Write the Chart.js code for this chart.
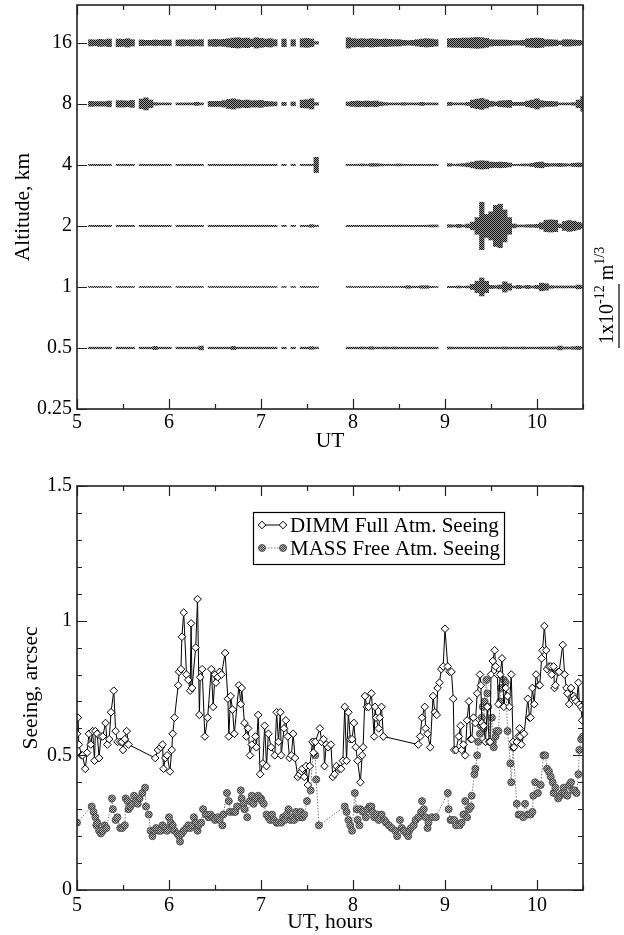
<!DOCTYPE html>
<html>
<head>
<meta charset="utf-8">
<script src="https://cdn.jsdelivr.net/npm/chart.js@4.4.0/dist/chart.umd.min.js"></script>
<style>
  html, body { margin: 0; padding: 0; background: #fff; }
  #wrap { position: relative; width: 624px; height: 935px; overflow: hidden; }
  #profile { position: absolute; left: 0; top: 0; }
  #seeing { position: absolute; left: 0; top: 470px; }
</style>
</head>
<body>
<div id="wrap">
  <canvas id="profile" width="624" height="470"></canvas>
  <canvas id="seeing" width="624" height="465"></canvas>
</div>
<script>
/* =========================================================
   DATA - turbulence profile (MASS layers)
   values are layer integrals in units of 1e-13 m^1/3
========================================================= */
const layerAltitudes = [0.5, 1, 2, 4, 8, 16];
const altitudeTicks = [0.25, 0.5, 1, 2, 4, 8, 16];
const hourTicks = [5, 5.5, 6, 6.5, 7, 7.5, 8, 8.5, 9, 9.5, 10, 10.5];

const profileTimes = [
  5.15, 5.20, 5.25, 5.30, 5.35,
  5.45, 5.50, 5.55, 5.60,
  5.70, 5.75, 5.80, 5.85, 5.90, 5.95, 6.00,
  6.10, 6.15, 6.20, 6.25, 6.30, 6.35,
  6.45, 6.50, 6.55, 6.60, 6.65, 6.70, 6.75, 6.80, 6.85, 6.90, 6.95, 7.00, 7.05, 7.10, 7.15,
  7.25, 7.35, 7.45, 7.50, 7.55, 7.60,
  7.95, 8.00, 8.05, 8.10, 8.15, 8.20, 8.25, 8.30, 8.35, 8.40,
  8.45, 8.50, 8.55, 8.60, 8.65, 8.70, 8.75, 8.80, 8.85, 8.90,
  9.05, 9.10, 9.15, 9.20, 9.25, 9.30, 9.35, 9.40, 9.45, 9.50,
  9.55, 9.60, 9.65, 9.70, 9.75, 9.80, 9.85, 9.90, 9.95, 10.00,
  10.05, 10.10, 10.15, 10.20, 10.25, 10.30, 10.35, 10.40, 10.45, 10.50
];

const turb16 = [
  1.0, 0.9, 1.1, 1.0, 1.2,
  1.2, 1.1, 1.3, 1.0,
  0.9, 0.8, 0.8, 0.9, 0.8, 0.9, 0.9,
  0.9, 1.0, 0.9, 1.0, 0.9, 1.0,
  1.0, 1.1, 1.0, 1.1, 1.3, 1.5, 1.6, 1.4, 1.5, 1.2, 1.6, 1.4, 1.2, 1.3, 1.0,
  1.2, 1.0, 1.3, 1.4, 1.2, 0.4,
  1.6, 1.3, 1.2, 1.3, 1.2, 1.3, 1.2, 1.1, 1.2, 1.1,
  1.0, 1.0, 0.8, 0.7, 0.8, 1.0, 1.2, 1.3, 1.2, 1.0,
  1.3, 1.4, 1.4, 1.5, 1.5, 1.6, 1.7, 1.6, 1.4, 1.0,
  0.9, 0.9, 0.9, 0.8, 0.7, 0.7, 0.8, 1.3, 1.4, 1.5,
  1.4, 1.0, 1.0, 0.9, 0.6, 1.0, 1.0, 0.9, 0.8, 0.6
];

const turb8 = [
  0.8, 0.7, 0.7, 0.7, 0.9,
  1.0, 1.0, 0.9, 1.1,
  1.5, 1.9, 1.2, 0.4, 0.3, 0.3, 0.3,
  0.3, 0.3, 0.3, 0.3, 0.5, 0.3,
  0.8, 0.8, 0.8, 1.0, 1.4, 1.6, 1.3, 1.1, 1.2, 1.0, 1.0, 1.1, 0.8, 0.7, 0.6,
  0.5, 0.6, 1.2, 1.3, 1.6, 0.4,
  0.6, 0.8, 0.9, 0.8, 0.9, 0.8, 0.9, 0.6, 0.4, 0.3,
  0.3, 0.3, 0.4, 0.3, 0.3, 0.3, 0.5, 0.3, 0.3, 0.3,
  0.5, 0.3, 0.3, 0.3, 0.5, 1.2, 1.5, 1.7, 1.3, 0.8,
  0.6, 0.9, 1.0, 1.1, 0.5, 0.5, 0.5, 0.9, 1.2, 1.6,
  1.0, 0.8, 0.8, 0.7, 0.3, 0.3, 0.3, 0.4, 1.2, 2.3
];

const turb4 = [
  0.2, 0.2, 0.2, 0.2, 0.2,
  0.2, 0.2, 0.2, 0.2,
  0.2, 0.2, 0.2, 0.2, 0.2, 0.2, 0.2,
  0.2, 0.2, 0.2, 0.2, 0.2, 0.2,
  0.2, 0.2, 0.2, 0.2, 0.2, 0.2, 0.2, 0.2, 0.2, 0.2, 0.2, 0.2, 0.2, 0.2, 0.2,
  0.2, 0.2, 0.2, 0.2, 0.2, 2.4,
  0.2, 0.2, 0.2, 0.3, 0.2, 0.4, 0.4, 0.3, 0.2, 0.2,
  0.2, 0.3, 0.2, 0.2, 0.2, 0.2, 0.2, 0.2, 0.2, 0.2,
  0.4, 0.2, 0.3, 0.4, 0.6, 0.9, 1.2, 1.3, 1.2, 0.9,
  0.8, 0.9, 0.8, 0.6, 0.2, 0.2, 0.3, 0.3, 0.5, 0.8,
  0.9, 0.5, 0.4, 0.4, 0.5, 0.4, 0.3, 0.5, 0.6, 0.5
];

const turb2 = [
  0.2, 0.2, 0.2, 0.2, 0.2,
  0.2, 0.2, 0.2, 0.2,
  0.2, 0.2, 0.2, 0.2, 0.2, 0.2, 0.2,
  0.2, 0.2, 0.2, 0.2, 0.2, 0.2,
  0.2, 0.2, 0.2, 0.2, 0.2, 0.2, 0.2, 0.2, 0.2, 0.2, 0.2, 0.2, 0.2, 0.2, 0.2,
  0.2, 0.2, 0.2, 0.2, 0.4, 0.2,
  0.2, 0.2, 0.2, 0.2, 0.2, 0.2, 0.2, 0.2, 0.2, 0.2,
  0.2, 0.2, 0.2, 0.2, 0.2, 0.2, 0.2, 0.2, 0.3, 0.3,
  0.4, 0.3, 0.5, 0.3, 0.6, 1.2, 2.6, 7.4, 3.6, 4.4,
  6.4, 6.8, 5.0, 2.6, 0.6, 0.3, 0.3, 0.4, 0.4, 0.5,
  1.0, 1.8, 1.9, 1.8, 0.6, 1.4, 1.7, 1.5, 1.1, 0.7
];

const turb1 = [
  0.15, 0.15, 0.15, 0.15, 0.15,
  0.15, 0.15, 0.15, 0.15,
  0.15, 0.15, 0.15, 0.15, 0.15, 0.15, 0.15,
  0.15, 0.15, 0.15, 0.15, 0.15, 0.15,
  0.15, 0.15, 0.15, 0.15, 0.15, 0.15, 0.15, 0.15, 0.15, 0.15, 0.15, 0.15, 0.15, 0.15, 0.15,
  0.15, 0.15, 0.15, 0.15, 0.15, 0.15,
  0.15, 0.15, 0.15, 0.15, 0.15, 0.15, 0.15, 0.15, 0.15, 0.15,
  0.15, 0.15, 0.2, 0.4, 0.2, 0.2, 0.4, 0.4, 0.2, 0.15,
  0.2, 0.2, 0.3, 0.2, 0.3, 0.8, 1.8, 2.8, 1.8, 0.5,
  0.4, 0.6, 1.6, 1.0, 0.3, 0.5, 0.3, 0.5, 0.3, 0.5,
  1.2, 1.0, 0.4, 0.3, 0.3, 0.3, 0.3, 0.3, 0.6, 0.4
];

const turb05 = [
  0.25, 0.25, 0.25, 0.25, 0.25,
  0.25, 0.25, 0.25, 0.25,
  0.25, 0.25, 0.25, 0.5, 0.25, 0.25, 0.25,
  0.25, 0.25, 0.25, 0.25, 0.25, 0.6,
  0.25, 0.25, 0.25, 0.25, 0.25, 0.5, 0.25, 0.25, 0.25, 0.25, 0.25, 0.25, 0.25, 0.25, 0.25,
  0.25, 0.25, 0.25, 0.25, 0.4, 0.25,
  0.25, 0.25, 0.25, 0.3, 0.25, 0.4, 0.25, 0.25, 0.3, 0.25,
  0.3, 0.25, 0.25, 0.25, 0.25, 0.25, 0.25, 0.25, 0.25, 0.25,
  0.3, 0.25, 0.25, 0.25, 0.25, 0.25, 0.25, 0.25, 0.25, 0.25,
  0.25, 0.25, 0.3, 0.25, 0.25, 0.25, 0.3, 0.25, 0.25, 0.25,
  0.3, 0.3, 0.3, 0.3, 0.6, 0.3, 0.3, 0.4, 0.5, 0.3
];

/* =========================================================
   DATA - seeing
========================================================= */
const dimmTimes = [
  5.00, 5.01, 5.02, 5.05, 5.06, 5.09, 5.11, 5.13, 5.15, 5.17, 5.19, 5.20, 5.22, 5.24, 5.26, 5.28,
  5.31, 5.33, 5.35, 5.37, 5.40, 5.42, 5.44, 5.47, 5.49, 5.50, 5.52, 5.54, 5.56,
  5.85, 5.88, 5.91, 5.93, 5.94, 5.96, 5.98, 6.01, 6.03, 6.04, 6.06, 6.10, 6.11, 6.13, 6.14, 6.16,
  6.19, 6.21, 6.23, 6.24, 6.25, 6.29, 6.31, 6.33, 6.34, 6.36, 6.39, 6.42, 6.46, 6.48, 6.50, 6.51,
  6.53, 6.55, 6.57, 6.61, 6.64, 6.65, 6.67, 6.69, 6.71, 6.76, 6.78, 6.79, 6.82, 6.84, 6.86, 6.88,
  6.90, 6.94, 6.95, 6.97, 6.99, 7.02, 7.04, 7.06, 7.08, 7.11, 7.15, 7.17, 7.19, 7.21, 7.22, 7.25,
  7.27, 7.29, 7.31, 7.33, 7.35, 7.37, 7.40, 7.42, 7.44, 7.45, 7.47, 7.49, 7.51, 7.53, 7.56, 7.57,
  7.59, 7.64, 7.66, 7.68, 7.69, 7.71, 7.73, 7.76, 7.78, 7.80, 7.82, 7.85, 7.87, 7.89, 7.91, 7.93,
  7.95, 7.97, 7.99, 8.01, 8.03, 8.05, 8.08, 8.10, 8.11, 8.13, 8.15, 8.17, 8.20, 8.23, 8.24, 8.25,
  8.28, 8.29, 8.31, 8.33,
  8.71, 8.73, 8.75, 8.78, 8.79, 8.81, 8.84, 8.87, 8.89, 8.91, 8.92, 8.94, 8.96, 8.98, 9.00, 9.03,
  9.05, 9.07, 9.09, 9.10, 9.12, 9.15, 9.17, 9.18, 9.20, 9.22, 9.24, 9.26, 9.28, 9.29, 9.31, 9.33,
  9.35, 9.38, 9.39, 9.40, 9.42, 9.44, 9.46, 9.48, 9.49, 9.50, 9.52, 9.54, 9.55, 9.57, 9.58, 9.60,
  9.62, 9.64, 9.66, 9.68, 9.70, 9.72, 9.74, 9.75, 9.78, 9.80, 9.81, 9.82, 9.83, 9.86, 9.90, 9.92,
  9.93, 9.95, 9.97, 9.99, 10.02, 10.03, 10.05, 10.06, 10.08, 10.10, 10.11, 10.13, 10.15, 10.16,
  10.18, 10.19, 10.20, 10.23, 10.24, 10.28, 10.30, 10.32, 10.33, 10.35, 10.37, 10.40, 10.41,
  10.43, 10.45, 10.46, 10.48, 10.49, 10.50
];
const dimmSeeing = [
  0.58, 0.64, 0.54, 0.50, 0.50, 0.45, 0.51, 0.58, 0.54, 0.59, 0.48, 0.59, 0.58, 0.49, 0.57, 0.57,
  0.62, 0.54, 0.56, 0.66, 0.74, 0.59, 0.55, 0.55, 0.55, 0.52, 0.56, 0.59, 0.54,
  0.49, 0.52, 0.53, 0.54, 0.45, 0.49, 0.50, 0.44, 0.52, 0.58, 0.64, 0.76, 0.81, 0.82, 0.94, 1.03,
  0.80, 0.78, 0.74, 0.99, 0.75, 0.90, 1.08, 0.65, 0.79, 0.82, 0.57, 0.64, 0.82, 0.68, 0.80, 0.77,
  0.79, 0.81, 0.80, 0.88, 0.71, 0.57, 0.72, 0.67, 0.58, 0.76, 0.69, 0.75, 0.62, 0.57, 0.60, 0.50,
  0.54, 0.57, 0.53, 0.65, 0.43, 0.47, 0.61, 0.46, 0.58, 0.53, 0.50, 0.66, 0.55, 0.66, 0.50, 0.60,
  0.63, 0.57, 0.49, 0.50, 0.58, 0.49, 0.42, 0.43, 0.44, 0.45, 0.42, 0.46, 0.39, 0.46, 0.55, 0.51,
  0.55, 0.60, 0.55, 0.56, 0.46, 0.54, 0.53, 0.54, 0.42, 0.43, 0.46, 0.45, 0.45, 0.48, 0.68, 0.48,
  0.66, 0.56, 0.56, 0.62, 0.53, 0.48, 0.40, 0.50, 0.53, 0.72, 0.68, 0.68, 0.73, 0.57, 0.68, 0.64,
  0.60, 0.64, 0.68, 0.57,
  0.54, 0.57, 0.64, 0.68, 0.60, 0.58, 0.53, 0.72, 0.66, 0.65, 0.75, 0.77, 0.82, 0.83, 0.97, 0.83,
  0.81, 0.81, 0.71, 0.52, 0.52, 0.57, 0.61, 0.52, 0.54, 0.50, 0.63, 0.70, 0.56, 0.56, 0.64, 0.62,
  0.73, 0.80, 0.76, 0.62, 0.61, 0.55, 0.68, 0.55, 0.55, 0.80, 0.85, 0.89, 0.83, 0.80, 0.69, 0.80,
  0.86, 0.68, 0.75, 0.72, 0.68, 0.80, 0.55, 0.53, 0.55, 0.57, 0.60, 0.57, 0.54, 0.58, 0.71, 0.64,
  0.64, 0.75, 0.69, 0.80, 0.76, 0.76, 0.86, 0.89, 0.98, 0.89, 0.82, 0.83, 0.83, 0.80,
  0.83, 0.75, 0.76, 0.81, 0.81, 0.91, 0.80, 0.75, 0.73, 0.69, 0.75, 0.72, 0.71,
  0.70, 0.77, 0.69, 0.68, 0.63, 0.67
];

const massTimes = [
  5.00, 5.16, 5.18, 5.20, 5.21, 5.22, 5.24, 5.26, 5.28, 5.30, 5.32, 5.38, 5.39, 5.42, 5.44, 5.47,
  5.49, 5.52, 5.53, 5.55, 5.56, 5.58, 5.60, 5.62, 5.64, 5.66, 5.68, 5.71, 5.74, 5.75, 5.78, 5.80,
  5.82, 5.84, 5.86, 5.89, 5.91, 5.93, 5.96, 5.98, 6.00, 6.02, 6.04, 6.06, 6.09, 6.11, 6.12, 6.14,
  6.16, 6.19, 6.21, 6.23, 6.25, 6.27, 6.29, 6.31, 6.32, 6.35, 6.37, 6.40, 6.43, 6.45, 6.48, 6.50,
  6.53, 6.55, 6.58, 6.59, 6.63, 6.65, 6.66, 6.70, 6.72, 6.74, 6.78, 6.79, 6.81, 6.82, 6.85, 6.88,
  6.90, 6.92, 6.94, 6.97, 7.00, 7.01, 7.03, 7.06, 7.08, 7.10, 7.12, 7.14, 7.17, 7.19, 7.22, 7.24,
  7.26, 7.28, 7.30, 7.32, 7.34, 7.36, 7.38, 7.41, 7.43, 7.45, 7.47, 7.50, 7.54, 7.57, 7.59, 7.60,
  7.63,
  7.91, 7.93, 7.95, 7.97, 7.99, 8.02, 8.04, 8.05, 8.07, 8.08, 8.11, 8.14, 8.16, 8.18, 8.20, 8.21,
  8.23, 8.26, 8.28, 8.31, 8.34, 8.36, 8.39, 8.42, 8.46, 8.48, 8.51, 8.53, 8.55, 8.58, 8.60, 8.61,
  8.63, 8.66, 8.68, 8.71, 8.74, 8.75, 8.77, 8.79, 8.81, 8.82, 8.86, 8.90,
  9.03, 9.04, 9.06, 9.07, 9.10, 9.12, 9.16, 9.18, 9.20, 9.22, 9.24, 9.26, 9.28, 9.29, 9.32, 9.33,
  9.35, 9.36, 9.38, 9.39, 9.40, 9.41, 9.42, 9.43, 9.45, 9.46, 9.47, 9.49, 9.51, 9.52, 9.53, 9.55,
  9.56, 9.58, 9.60, 9.61, 9.64, 9.66, 9.68, 9.71, 9.72, 9.74, 9.78, 9.80, 9.82, 9.85, 9.87, 9.90,
  9.93, 9.95, 9.96, 9.98, 10.01, 10.04, 10.07, 10.09, 10.11, 10.13, 10.15, 10.17, 10.18, 10.20,
  10.23, 10.25, 10.27, 10.29, 10.30, 10.33, 10.35, 10.37, 10.39, 10.41, 10.43, 10.45, 10.46,
  10.48, 10.50
];
const massSeeing = [
  0.25, 0.31, 0.29, 0.27, 0.24, 0.25, 0.22, 0.21, 0.22, 0.24, 0.23, 0.34, 0.30, 0.26, 0.27, 0.23,
  0.23, 0.24, 0.34, 0.33, 0.30, 0.31, 0.32, 0.35, 0.33, 0.32, 0.34, 0.36, 0.38, 0.31, 0.28, 0.22,
  0.20, 0.22, 0.23, 0.22, 0.22, 0.24, 0.23, 0.22, 0.27, 0.25, 0.24, 0.22, 0.21, 0.20, 0.18, 0.21,
  0.22, 0.23, 0.24, 0.23, 0.24, 0.27, 0.25, 0.22, 0.24, 0.25, 0.30, 0.28, 0.27, 0.28, 0.27, 0.26,
  0.27, 0.26, 0.24, 0.28, 0.36, 0.33, 0.29, 0.29, 0.29, 0.31, 0.37, 0.34, 0.32, 0.30, 0.27, 0.33,
  0.35, 0.32, 0.34, 0.35, 0.34, 0.33, 0.32, 0.28, 0.27, 0.26, 0.28, 0.26, 0.25, 0.25, 0.25, 0.27,
  0.26, 0.28, 0.30, 0.26, 0.27, 0.26, 0.29, 0.27, 0.29, 0.27, 0.28, 0.33, 0.37, 0.55, 0.50, 0.41,
  0.24,
  0.31, 0.29, 0.26, 0.24, 0.22, 0.36, 0.30, 0.26, 0.24, 0.30, 0.29, 0.27, 0.30, 0.31, 0.31, 0.29,
  0.27, 0.28, 0.26, 0.28, 0.26, 0.25, 0.24, 0.23, 0.22, 0.20, 0.26, 0.23, 0.22, 0.21, 0.20, 0.22,
  0.23, 0.24, 0.26, 0.27, 0.29, 0.33, 0.30, 0.27, 0.23, 0.25, 0.27, 0.27,
  0.36, 0.30, 0.26, 0.26, 0.26, 0.24, 0.24, 0.25, 0.28, 0.33, 0.27, 0.30, 0.31, 0.35, 0.43, 0.45,
  0.50, 0.55, 0.58, 0.61, 0.64, 0.68, 0.60, 0.70, 0.78, 0.73, 0.68, 0.55, 0.64, 0.55, 0.53, 0.57,
  0.59, 0.59, 0.70, 0.75, 0.78, 0.77, 0.59, 0.47, 0.40, 0.53, 0.32, 0.28, 0.28, 0.27, 0.32, 0.28,
  0.28, 0.29, 0.35, 0.40, 0.36, 0.39, 0.50, 0.50, 0.45, 0.44, 0.42, 0.40, 0.36, 0.38,
  0.34, 0.35, 0.36, 0.38, 0.36, 0.35, 0.39, 0.40, 0.37, 0.37, 0.36, 0.43, 0.52,
  0.56, 0.57
];

/* =========================================================
   STYLE HELPERS
========================================================= */
Chart.defaults.font.family = "'Liberation Serif', 'Times New Roman', serif";
Chart.defaults.font.size = 20;
Chart.defaults.color = '#000';

const titleFont = { size: 21.5 };

// 2x2 checker, gives the grey dithered fill of the old plotting package
function ditherFill(dark, light) {
  const c = document.createElement('canvas');
  c.width = 2; c.height = 2;
  const g = c.getContext('2d');
  g.fillStyle = light; g.fillRect(0, 0, 2, 2);
  g.fillStyle = dark; g.fillRect(0, 0, 1, 1); g.fillRect(1, 1, 1, 1);
  return g.createPattern(c, 'repeat');
}

const isHalf = v => Math.abs(v * 2 - Math.round(v * 2)) < 1e-6;
const isWhole = v => Math.abs(v - Math.round(v)) < 1e-6;

/* =========================================================
   PLUGINS
========================================================= */
// closed frame + inward ticks
const frameTicks = {
  id: 'frameTicks',
  afterDraw(chart, args, opts) {
    const { ctx, chartArea: a, scales } = chart;
    ctx.save();
    ctx.strokeStyle = '#222';
    ctx.lineWidth = 1.2;
    ctx.beginPath();
    scales.x.ticks.forEach(t => {
      const px = Math.round(scales.x.getPixelForValue(t.value)) + 0.5;
      const len = isWhole(t.value) ? 10 : 5;
      ctx.moveTo(px, a.bottom); ctx.lineTo(px, a.bottom - len);
      ctx.moveTo(px, a.top); ctx.lineTo(px, a.top + len);
    });
    scales.y.ticks.forEach(t => {
      const py = Math.round(scales.y.getPixelForValue(t.value)) + 0.5;
      const len = opts.yMajor(t.value) ? 10 : 5;
      ctx.moveTo(a.left, py); ctx.lineTo(a.left + len, py);
      if (opts.mirrorY) { ctx.moveTo(a.right, py); ctx.lineTo(a.right - len, py); }
    });
    ctx.stroke();
    ctx.lineWidth = 1.6;
    ctx.strokeRect(a.left, a.top, a.right - a.left, a.bottom - a.top);
    ctx.restore();
  }
};

// one unit of 1e-12 m^1/3 spans this many octaves of the altitude axis
const OCTAVES_PER_UNIT = 1.05;

// scale bar for the turbulence bars, right of the profile panel
const unitBar = {
  id: 'unitBar',
  afterDraw(chart) {
    const { ctx, chartArea: a, scales: { y } } = chart;
    const yLow = y.getPixelForValue(0.5);
    const yHigh = y.getPixelForValue(0.5 * Math.pow(2, OCTAVES_PER_UNIT));
    const xBar = a.right + 36;
    ctx.save();
    ctx.strokeStyle = '#000';
    ctx.lineWidth = 1.2;
    ctx.beginPath();
    ctx.moveTo(xBar, yLow); ctx.lineTo(xBar, yHigh);
    ctx.stroke();

    ctx.translate(xBar - 6, yLow - 4);
    ctx.rotate(-Math.PI / 2);
    ctx.fillStyle = '#000';
    ctx.textBaseline = 'alphabetic';
    const big = "20px 'Liberation Serif'";
    const small = "14px 'Liberation Serif'";
    const parts = [
      { s: '1x10', f: big, dy: 0 },
      { s: '-12', f: small, dy: -9 },
      { s: ' m', f: big, dy: 0 },
      { s: '1/3', f: small, dy: -9 }
    ];
    let x = 0;
    parts.forEach(p => {
      ctx.font = p.f;
      ctx.fillText(p.s, x, p.dy);
      x += ctx.measureText(p.s).width;
    });
    ctx.restore();
  }
};

// boxed legend inside the seeing panel
const seeingLegend = {
  id: 'seeingLegend',
  afterDraw(chart) {
    const { ctx, chartArea: a } = chart;
    const left = a.left + 176, top = a.top + 26, w = 251, h = 52;
    ctx.save();
    ctx.fillStyle = '#fff';
    ctx.fillRect(left, top, w, h);
    ctx.strokeStyle = '#000';
    ctx.lineWidth = 1.2;
    ctx.strokeRect(left + 0.5, top + 0.5, w, h);

    const rows = [chart.data.datasets[1], chart.data.datasets[0]];
    rows.forEach((ds, i) => {
      const cy = top + 13 + i * 23;
      const x0 = left + 9, x1 = left + 30;
      ctx.strokeStyle = ds.borderColor;
      ctx.lineWidth = 1;
      ctx.setLineDash(ds.borderDash || []);
      ctx.beginPath();
      ctx.moveTo(x0, cy); ctx.lineTo(x1, cy);
      ctx.stroke();
      ctx.setLineDash([]);
      [x0, x1].forEach(px => {
        ctx.fillStyle = ds.pointBackgroundColor;
        ctx.strokeStyle = ds.pointBorderColor;
        ctx.beginPath();
        if (ds.pointStyle === 'rectRot') {
          const r = ds.pointRadius;
          ctx.moveTo(px, cy - r); ctx.lineTo(px + r, cy);
          ctx.lineTo(px, cy + r); ctx.lineTo(px - r, cy);
          ctx.closePath();
        } else {
          ctx.arc(px, cy, ds.pointRadius, 0, Math.PI * 2);
        }
        ctx.fill();
        ctx.stroke();
      });
      ctx.fillStyle = '#000';
      ctx.font = "21px 'Liberation Serif'";
      ctx.textBaseline = 'middle';
      ctx.fillText(ds.label, left + 37, cy + 1);
    });
    ctx.restore();
  }
};

/* =========================================================
   PROFILE PANEL
========================================================= */
const layerValues = [turb05, turb1, turb2, turb4, turb8, turb16];
const barFill = ditherFill('#111', '#9a9a9a');

function layerBars(alt, values) {
  return profileTimes.map((t, i) => {
    const half = values[i] / 10 * OCTAVES_PER_UNIT / 2;
    return { x: t, y: [alt * Math.pow(2, -half), alt * Math.pow(2, half)] };
  });
}

new Chart(document.getElementById('profile'), {
  type: 'bar',
  data: {
    datasets: layerAltitudes.map((alt, k) => ({
      data: layerBars(alt, layerValues[k]),
      backgroundColor: barFill,
      borderWidth: 0,
      grouped: false,
      barPercentage: 1,
      categoryPercentage: 1
    }))
  },
  options: {
    responsive: false,
    animation: false,
    layout: { padding: { left: 0, right: 41, top: 5, bottom: 0 } },
    plugins: {
      legend: { display: false },
      tooltip: { enabled: false },
      frameTicks: { yMajor: () => true, mirrorY: false }
    },
    scales: {
      x: {
        type: 'linear', min: 5, max: 10.5, offset: false,
        grid: { display: false, drawTicks: false },
        border: { display: false },
        afterBuildTicks: s => { s.ticks = hourTicks.map(v => ({ value: v })); },
        ticks: { padding: 2, maxRotation: 0, autoSkip: false,
                 callback: v => isWhole(v) ? String(v) : '' },
        title: { display: true, text: 'UT', font: titleFont, padding: { top: 0, bottom: 16 } },
        afterFit: s => { s.height = 61; s.paddingLeft = 0; s.paddingRight = 0; }
      },
      y: {
        type: 'logarithmic', min: 0.25, max: 24.6,
        grid: { display: false, drawTicks: false },
        border: { display: false },
        afterBuildTicks: s => { s.ticks = altitudeTicks.map(v => ({ value: v })); },
        ticks: { padding: 5, autoSkip: false, callback: v => String(v) },
        title: { display: true, text: 'Altitude, km', font: titleFont, padding: { top: 10, bottom: 0 } },
        afterFit: s => { s.width = 77; s.paddingTop = 0; s.paddingBottom = 0; }
      }
    }
  },
  plugins: [frameTicks, unitBar]
});

/* =========================================================
   SEEING PANEL
========================================================= */
new Chart(document.getElementById('seeing'), {
  type: 'line',
  data: {
    datasets: [
      {
        label: 'MASS Free Atm. Seeing',
        data: massTimes.map((t, i) => ({ x: t, y: massSeeing[i] })),
        borderColor: '#7a7a7a',
        borderWidth: 1,
        borderDash: [1.5, 1.5],
        pointStyle: 'circle',
        pointRadius: 3.5,
        pointBackgroundColor: ditherFill('#3a3a3a', '#bdbdbd'),
        pointBorderColor: '#555',
        pointBorderWidth: 1,
        order: 2
      },
      {
        label: 'DIMM Full Atm. Seeing',
        data: dimmTimes.map((t, i) => ({ x: t, y: dimmSeeing[i] })),
        borderColor: '#000',
        borderWidth: 1,
        pointStyle: 'rectRot',
        pointRadius: 3.8,
        pointBackgroundColor: '#fff',
        pointBorderColor: '#000',
        pointBorderWidth: 1,
        order: 1
      }
    ]
  },
  options: {
    responsive: false,
    animation: false,
    layout: { padding: { left: 0, right: 41, top: 16, bottom: 0 } },
    plugins: {
      legend: { display: false },
      tooltip: { enabled: false },
      frameTicks: { yMajor: isHalf, mirrorY: true }
    },
    scales: {
      x: {
        type: 'linear', min: 5, max: 10.5,
        grid: { display: false, drawTicks: false },
        border: { display: false },
        afterBuildTicks: s => { s.ticks = hourTicks.map(v => ({ value: v })); },
        ticks: { padding: 4, maxRotation: 0, autoSkip: false,
                 callback: v => isWhole(v) ? String(v) : '' },
        title: { display: true, text: 'UT, hours', font: titleFont, padding: { top: 0, bottom: 0 } },
        afterFit: s => { s.height = 45; s.paddingLeft = 0; s.paddingRight = 0; }
      },
      y: {
        type: 'linear', min: 0, max: 1.5,
        grid: { display: false, drawTicks: false },
        border: { display: false },
        ticks: { stepSize: 0.1, padding: 5, autoSkip: false,
                 callback: v => isHalf(v) ? String(Math.round(v * 2) / 2) : '' },
        title: { display: true, text: 'Seeing, arcsec', font: titleFont, padding: { top: 18, bottom: 0 } },
        afterFit: s => { s.width = 77; s.paddingTop = 0; s.paddingBottom = 0; }
      }
    }
  },
  plugins: [frameTicks, seeingLegend]
});
</script>
</body>
</html>
